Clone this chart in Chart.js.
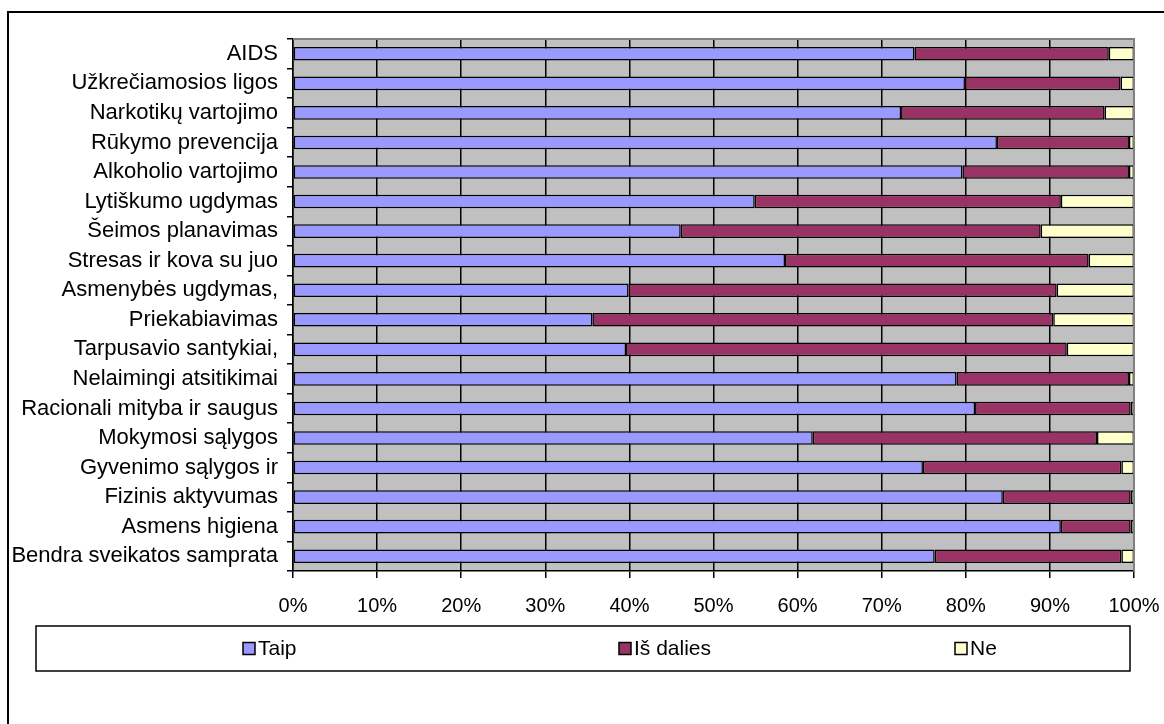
<!DOCTYPE html>
<html>
<head>
<meta charset="utf-8">
<script src="https://cdn.jsdelivr.net/npm/chart.js@4/dist/chart.umd.min.js"></script>
<style>
  html, body { margin: 0; padding: 0; background: #fff; }
  #wrap { width: 1164px; height: 724px; position: relative; }
</style>
</head>
<body>
<div id="wrap"><canvas id="c" width="1164" height="724"></canvas></div>
<script>
// Health education topics
const categories = [
  "AIDS",
  "Užkrečiamosios ligos",
  "Narkotikų vartojimo",
  "Rūkymo prevencija",
  "Alkoholio vartojimo",
  "Lytiškumo ugdymas",
  "Šeimos planavimas",
  "Stresas ir kova su juo",
  "Asmenybės ugdymas,",
  "Priekabiavimas",
  "Tarpusavio santykiai,",
  "Nelaimingi atsitikimai",
  "Racionali mityba ir saugus",
  "Mokymosi sąlygos",
  "Gyvenimo sąlygos ir",
  "Fizinis aktyvumas",
  "Asmens higiena",
  "Bendra sveikatos samprata"
];

// Shares of answers, %
const taip     = [73.9, 79.9, 72.3, 83.7, 79.6, 54.9, 46.1, 58.5, 39.9, 35.6, 39.6, 78.9, 81.1, 61.8, 74.9, 84.4, 91.3, 76.3];
const isDalies = [23.1, 18.5, 24.2, 15.7, 19.8, 36.4, 42.8, 36.1, 50.9, 54.8, 52.4, 20.5, 18.5, 33.8, 23.6, 15.2, 8.3, 22.2];
const ne       = [3.0, 1.6, 3.5, 0.6, 0.6, 8.7, 11.1, 5.4, 9.2, 9.6, 8.0, 0.6, 0.4, 4.4, 1.5, 0.4, 0.4, 1.5];

const seriesNames = ["Taip", "Iš dalies", "Ne"];
const xTicks = [0, 10, 20, 30, 40, 50, 60, 70, 80, 90, 100];

const FONT = "'Liberation Sans', Arial, sans-serif";

// Grey plot background, plot frame and outer chart frame
const framePlugin = {
  id: 'frame',
  beforeDraw(chart) {
    const { ctx, chartArea: a } = chart;
    ctx.save();
    ctx.fillStyle = '#ffffff';
    ctx.fillRect(0, 0, chart.width, chart.height);
    ctx.fillStyle = '#C0C0C0';
    ctx.fillRect(a.left, a.top, a.right - a.left, a.bottom - a.top);
    ctx.restore();
  },
  afterDraw(chart) {
    const { ctx, chartArea: a } = chart;
    ctx.save();
    ctx.strokeStyle = '#808080';
    ctx.lineWidth = 2;
    ctx.beginPath();
    ctx.moveTo(a.left, a.top);
    ctx.lineTo(a.right, a.top);
    ctx.lineTo(a.right, a.bottom);
    ctx.stroke();
    ctx.strokeStyle = '#000';
    ctx.lineWidth = 2;
    ctx.strokeRect(8, 12, chart.width + 20, chart.height + 20);
    ctx.restore();
  }
};

// Boxed legend below the plot
const boxLegend = {
  id: 'boxLegend',
  afterDraw(chart) {
    const { ctx } = chart;
    const box = { left: 36, top: 626, right: 1130, bottom: 671 };
    ctx.save();
    ctx.fillStyle = '#fff';
    ctx.fillRect(box.left, box.top, box.right - box.left, box.bottom - box.top);
    ctx.strokeStyle = '#000';
    ctx.lineWidth = 1.5;
    ctx.strokeRect(box.left, box.top, box.right - box.left, box.bottom - box.top);
    const starts = [243, 619, 955];
    const cy = (box.top + box.bottom) / 2;
    ctx.font = '21px ' + FONT;
    ctx.textBaseline = 'middle';
    chart.data.datasets.forEach((ds, i) => {
      const x = starts[i];
      ctx.fillStyle = ds.backgroundColor;
      ctx.fillRect(x, cy - 6, 12, 12);
      ctx.strokeStyle = '#000';
      ctx.lineWidth = 1.5;
      ctx.strokeRect(x, cy - 6, 12, 12);
      ctx.fillStyle = '#000';
      ctx.fillText(ds.label, x + 15, cy + 1);
    });
    ctx.restore();
  }
};

const common = { borderColor: '#000', borderWidth: 1.5, borderSkipped: false, barPercentage: 0.46, categoryPercentage: 1 };

new Chart(document.getElementById('c'), {
  type: 'bar',
  data: {
    labels: categories,
    datasets: [
      Object.assign({ label: seriesNames[0], data: taip, backgroundColor: '#9999FF' }, common),
      Object.assign({ label: seriesNames[1], data: isDalies, backgroundColor: '#993366' }, common),
      Object.assign({ label: seriesNames[2], data: ne, backgroundColor: '#FFFFCC' }, common)
    ]
  },
  options: {
    indexAxis: 'y',
    responsive: false,
    animation: false,
    layout: { padding: { left: 0, right: 30, top: 39, bottom: 103 } },
    plugins: { legend: { display: false }, tooltip: { enabled: false } },
    scales: {
      x: {
        stacked: true,
        min: 0,
        max: 100,
        afterBuildTicks(scale) { scale.ticks = xTicks.map(v => ({ value: v })); },
        afterFit(scale) { scale.height = 50; scale.paddingLeft = 0; scale.paddingRight = 0; },
        grid: { color: '#000', lineWidth: 1.5, tickLength: 7, drawTicks: true },
        border: { color: '#000', width: 1.5 },
        ticks: { color: '#000', font: { family: FONT, size: 20 }, padding: 16, callback: v => v + '%', maxRotation: 0, autoSkip: false }
      },
      y: {
        stacked: true,
        afterFit(scale) { scale.width = 293; scale.paddingTop = 0; scale.paddingBottom = 0; },
        grid: { display: true, drawOnChartArea: false, color: '#000', lineWidth: 1.5, tickLength: 6, offset: true },
        border: { color: '#000', width: 1.5 },
        ticks: { color: '#000', font: { family: FONT, size: 22 }, padding: 9, autoSkip: false }
      }
    }
  },
  plugins: [framePlugin, boxLegend]
});
</script>
</body>
</html>
